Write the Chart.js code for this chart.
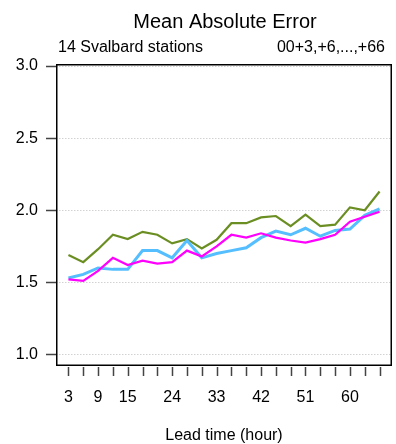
<!DOCTYPE html>
<html>
<head>
<meta charset="utf-8">
<script src="https://cdn.jsdelivr.net/npm/chart.js@4/dist/chart.umd.min.js"></script>
<style>
  body { margin: 0; background: #fff; }
  canvas { display: block; }
</style>
</head>
<body>
<canvas id="maeChart" width="396" height="444"></canvas>
<script>
const leadTimes = [3, 6, 9, 12, 15, 18, 21, 24, 27, 30, 33, 36, 39, 42, 45, 48, 51, 54, 57, 60, 63, 66];
const labelledHours = [3, 9, 15, 24, 33, 42, 51, 60];
const yTicks = [1.0, 1.5, 2.0, 2.5, 3.0];

const maeGreen = [1.69, 1.64, 1.73, 1.83, 1.80, 1.85, 1.83, 1.77, 1.80, 1.735, 1.795, 1.91, 1.91, 1.95, 1.96, 1.89, 1.97, 1.89, 1.90, 2.02, 2.00, 2.13];
const maeBlue = [1.53, 1.555, 1.60, 1.59, 1.59, 1.72, 1.72, 1.67, 1.79, 1.67, 1.70, 1.72, 1.74, 1.81, 1.855, 1.83, 1.875, 1.82, 1.86, 1.87, 1.965, 2.01];
const maeMagenta = [1.52, 1.51, 1.58, 1.67, 1.62, 1.65, 1.63, 1.64, 1.72, 1.68, 1.75, 1.83, 1.81, 1.84, 1.81, 1.79, 1.775, 1.80, 1.83, 1.92, 1.955, 1.99];

const FONT = '"Liberation Sans", Arial, Helvetica, sans-serif';
const TICK_LEN = 10;

function points(values) {
    return leadTimes.map((t, i) => ({ x: t, y: values[i] }));
}

// title, subtitles, tick marks and the box round the panel
const panelText = {
    id: 'panelText',
    afterDraw(chart) {
        const ctx = chart.ctx;
        const a = chart.chartArea;
        const xs = chart.scales.x;
        const ys = chart.scales.y;
        ctx.save();

        ctx.strokeStyle = '#444';
        ctx.lineWidth = 1.5;
        ctx.beginPath();
        leadTimes.forEach(t => {
            const px = Math.round(xs.getPixelForValue(t)) + 0.5;
            ctx.moveTo(px, a.bottom + 1);
            ctx.lineTo(px, a.bottom + TICK_LEN);
        });
        yTicks.forEach(v => {
            const py = Math.round(ys.getPixelForValue(v)) + 0.5;
            ctx.moveTo(a.left - TICK_LEN, py);
            ctx.lineTo(a.left, py);
        });
        ctx.stroke();

        ctx.strokeStyle = '#000';
        ctx.lineWidth = 1.5;
        ctx.strokeRect(a.left + 0.75, a.top + 0.75, a.right - a.left - 1.5, a.bottom - a.top - 1.5);

        ctx.fillStyle = '#000';
        ctx.textBaseline = 'alphabetic';
        ctx.font = '20px ' + FONT;
        ctx.textAlign = 'center';
        ctx.fillText('Mean Absolute Error', (a.left + a.right) / 2 + 1, 28);

        ctx.font = '16px ' + FONT;
        ctx.textAlign = 'left';
        ctx.fillText('14 Svalbard stations', 58, 51.5);
        ctx.textAlign = 'right';
        ctx.fillText('00+3,+6,...,+66', 385, 51.5);
        ctx.restore();
    }
};

const ctx = document.getElementById('maeChart').getContext('2d');
new Chart(ctx, {
    type: 'line',
    data: {
        datasets: [{
            label: 'green',
            data: points(maeGreen),
            borderColor: '#6B8E23',
            borderWidth: 2.2,
            order: 3
        }, {
            label: 'blue',
            data: points(maeBlue),
            borderColor: '#55BEFF',
            borderWidth: 3,
            order: 2
        }, {
            label: 'magenta',
            data: points(maeMagenta),
            borderColor: '#FF00FF',
            borderWidth: 2.2,
            order: 1
        }]
    },
    options: {
        responsive: false,
        animation: false,
        layout: { padding: { top: 64, right: 4, left: 0, bottom: 0 } },
        elements: {
            point: { radius: 0 },
            line: { tension: 0, fill: false }
        },
        plugins: {
            legend: { display: false },
            tooltip: { enabled: false }
        },
        scales: {
            x: {
                type: 'linear',
                min: 0.48,
                max: 68.52,
                afterFit(scale) { scale.height = 78; },
                afterBuildTicks(scale) { scale.ticks = leadTimes.map(v => ({ value: v })); },
                border: { display: false },
                grid: {
                    drawOnChartArea: false,
                    tickLength: TICK_LEN,
                    tickColor: 'rgba(0,0,0,0)'
                },
                ticks: {
                    autoSkip: false,
                    maxRotation: 0,
                    padding: 12,
                    color: '#000',
                    font: { family: FONT, size: 16 },
                    callback: v => labelledHours.includes(v) ? String(v) : ''
                },
                title: {
                    display: true,
                    text: 'Lead time (hour)',
                    color: '#000',
                    font: { family: FONT, size: 16, lineHeight: 1 },
                    padding: { top: 0, bottom: 0 }
                }
            },
            y: {
                min: 0.92,
                max: 3.014,
                afterFit(scale) { scale.width = 56; },
                afterBuildTicks(scale) { scale.ticks = yTicks.map(v => ({ value: v })); },
                border: { display: false, dash: [1.5, 1.5] },
                grid: {
                    color: '#d2d2d2',
                    tickLength: TICK_LEN,
                    tickColor: 'rgba(0,0,0,0)'
                },
                ticks: {
                    padding: 8,
                    color: '#000',
                    font: { family: FONT, size: 16 },
                    callback: v => v.toFixed(1)
                }
            }
        }
    },
    plugins: [panelText]
});
</script>
</body>
</html>
